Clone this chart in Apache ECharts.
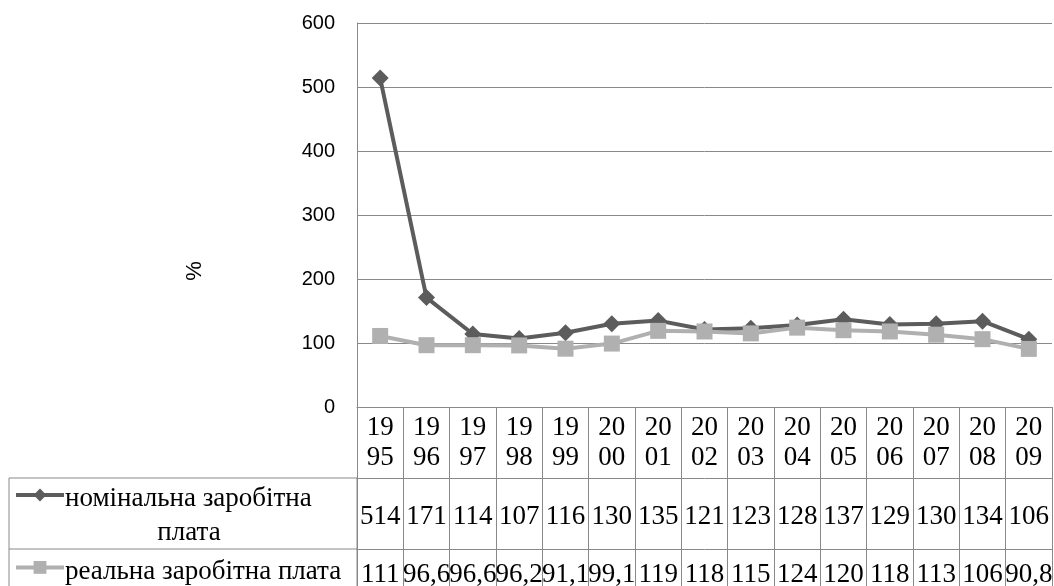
<!DOCTYPE html>
<html><head><meta charset="utf-8">
<script src="https://cdn.jsdelivr.net/npm/echarts@6/dist/echarts.min.js"></script>
<style>html,body{margin:0;padding:0;background:#fff}#c{width:1054px;height:586px}</style>
</head><body><div id="c"></div>
<script>
const years = ['1995','1996','1997','1998','1999','2000','2001','2002','2003','2004','2005','2006','2007','2008','2009'];
const nominal = [514,171,114,107,116,130,135,121,123,128,137,129,130,134,106];
const real = [111,96.6,96.6,96.2,91.1,99.1,119,118,115,124,120,118,113,106,90.8];
const yMin = 0, yMax = 600, yStep = 100;
const nominalName = 'номінальна заробітна плата';
const realName = 'реальна заробітна плата';
const nominalLines = ['номінальна заробітна', 'плата'];
const unitLabel = '%';

const serif = 'Liberation Serif';
const sans = 'Liberation Sans';
const lineCol = '#898989';
const fs = 27;
const fmt = v => String(v).replace('.', ',');

const chart = echarts.init(document.getElementById('c'), null, {renderer:'canvas'});
const tableAxis = (offset, tickLen, labelFn, lh, margin) => ({
  type:'category', data: years, position:'bottom', offset: offset, gridIndex:0,
  axisLine:{show:true, lineStyle:{color:lineCol, width:1}},
  axisTick:{show:true, length:tickLen, lineStyle:{color:lineCol, width:1}},
  axisLabel:{interval:0, margin:margin, formatter: labelFn, color:'#000', fontFamily:serif, fontSize:fs, lineHeight:lh},
  splitLine:{show:false}
});
const txt = (text, x, y, align) => ({type:'text', x:x, y:y, silent:true,
  style:{text:text, fontFamily:serif, fontSize:fs, fill:'#000', align:align, verticalAlign:'middle'}});
chart.setOption({
  animation:false,
  grid:{left:357, right:2, top:23, bottom:179, containLabel:false, outerBoundsMode:'none'},
  legend:{
    orient:'vertical', left:14, top:487, padding:0, itemGap:58,
    itemWidth:48, itemHeight:16, selectedMode:false,
    lineStyle:{width:4},
    data:[nominalName, realName],
    formatter: () => ''
  },
  xAxis:[
    tableAxis(0, 71, v => v.slice(0,2) + '\n' + v.slice(2), 30, 6),
    tableAxis(71, 71, (v, i) => fmt(nominal[i]), 71, 3),
    tableAxis(142, 45, (v, i) => fmt(real[i]), 40, 6)
  ],
  yAxis:{
    type:'value', min:yMin, max:yMax, interval:yStep,
    axisLine:{show:true, lineStyle:{color:lineCol, width:1}},
    axisTick:{show:false},
    axisLabel:{color:'#000', fontFamily:sans, fontSize:20, margin:22},
    splitLine:{show:true, lineStyle:{color:lineCol, width:1}}
  },
  graphic:[
    {type:'rect', shape:{x:9, y:478, width:348, height:200}, style:{fill:null, stroke:lineCol, lineWidth:1}, silent:true},
    {type:'line', shape:{x1:9, y1:549, x2:357, y2:549}, style:{stroke:lineCol, lineWidth:1}, silent:true},
    {type:'text', x:195, y:271, rotation:Math.PI/2, style:{text:unitLabel, fontFamily:sans, fontSize:22, fill:'#000', align:'center', verticalAlign:'middle'}, silent:true},
    txt(nominalLines[0], 65, 499, 'left'),
    txt(nominalLines[1], 189, 533, 'center'),
    txt(realName, 65, 572, 'left')
  ],
  series:[
    {name:nominalName, type:'line', data:nominal, xAxisIndex:0, symbol:'diamond', symbolSize:17,
     itemStyle:{color:'#5c5c5c'}, lineStyle:{color:'#5c5c5c', width:4}},
    {name:realName, type:'line', data:real, xAxisIndex:0, symbol:'rect', symbolSize:16,
     itemStyle:{color:'#b0b0b0'}, lineStyle:{color:'#b0b0b0', width:4}}
  ]
});
</script></body></html>
